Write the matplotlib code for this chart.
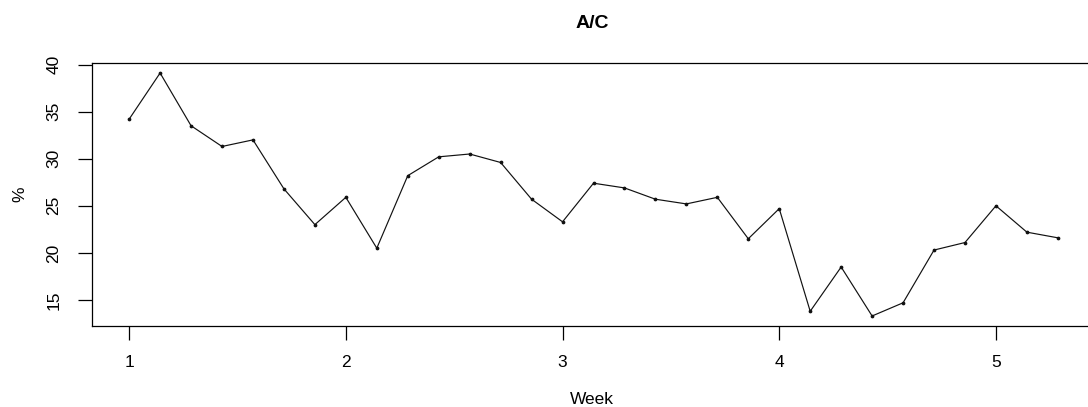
import numpy as np
import matplotlib
matplotlib.use('Agg')
import matplotlib.pyplot as plt

plt.rcParams['font.family'] = ['Liberation Sans', 'DejaVu Sans']

# daily values, plotted as fraction of week (1 + day/7)
day = np.arange(31)
week = 1 + day / 7.0
pct = [34.2, 39.1, 33.5, 31.3, 32.0, 26.8, 23.0, 25.9, 20.5, 28.2,
       30.2, 30.5, 29.6, 25.7, 23.3, 27.4, 26.9, 25.7, 25.2, 25.9,
       21.5, 24.7, 13.8, 18.5, 13.3, 14.7, 20.3, 21.1, 25.0, 22.2, 21.6]
xticks = [1, 2, 3, 4, 5]
yticks = [15, 20, 25, 30, 35, 40]

W, H = 1088, 407
fig = plt.figure(figsize=(W / 100, H / 100), dpi=100)
ax = fig.add_axes([92 / W, (H - 325.7) / H, (1095 - 92) / W, (325.7 - 63.3) / H])

ax.plot(week, pct, color='#111111', lw=0.85, marker='o', ms=1.7)

# R style 4% padding
xr = week[-1] - week[0]
ax.set_xlim(week[0] - 0.04 * xr, week[-1] + 0.04 * xr)
yr = max(pct) - min(pct)
ax.set_ylim(min(pct) - 0.04 * yr, max(pct) + 0.04 * yr)

ax.set_xticks(xticks)
ax.set_yticks(yticks)
ax.set_yticklabels([str(v) for v in yticks], rotation=90, va='center')
ax.tick_params(length=10, width=0.9, labelsize=12.5, direction='out')
ax.tick_params(axis='x', pad=11)
ax.tick_params(axis='y', pad=12)
for s in ax.spines.values():
    s.set_linewidth(0.9)

fig.text(592 / W, 1 - 23 / H, 'A/C', ha='center', va='center',
         fontsize=14, fontweight='bold')
fig.text(592 / W, 1 - 399 / H, 'Week', ha='center', va='center', fontsize=12.5)
fig.text(20 / W, 1 - 194 / H, '%', ha='center', va='center', fontsize=12.5,
         rotation=90)

fig.savefig('out.png', dpi=100)
